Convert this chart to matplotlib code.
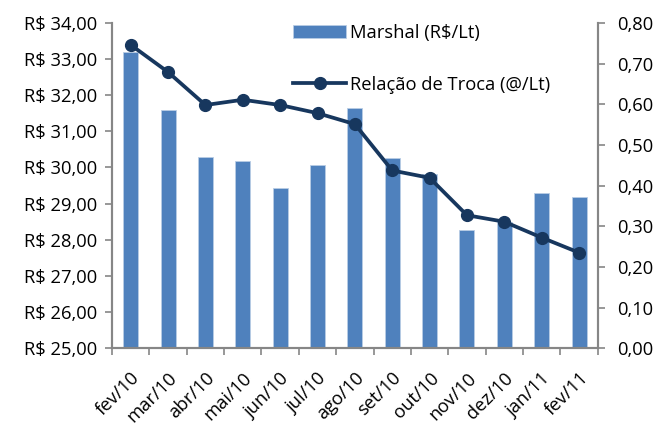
import matplotlib
matplotlib.use("Agg")
import matplotlib.pyplot as plt
from matplotlib.ticker import FuncFormatter, MultipleLocator, FixedLocator
import numpy as np

# dados
meses = ['fev/10', 'mar/10', 'abr/10', 'mai/10', 'jun/10', 'jul/10', 'ago/10',
         'set/10', 'out/10', 'nov/10', 'dez/10', 'jan/11', 'fev/11']
marshal = [33.19, 31.58, 30.28, 30.17, 29.42, 30.07, 31.65,
           30.27, 29.82, 28.26, 28.50, 29.30, 29.17]
troca = [0.746, 0.679, 0.598, 0.611, 0.598, 0.578, 0.551,
         0.437, 0.419, 0.327, 0.311, 0.272, 0.235]

cor_barra = '#4F81BD'
cor_linha = '#17375E'
cor_eixo = '#868686'

plt.rcParams['font.family'] = ['Open Sans', 'DejaVu Sans']
plt.rcParams['font.size'] = 13.2

fig = plt.figure(figsize=(6.59, 4.32), dpi=100)
ax = fig.add_axes([0.170, 0.194, 0.737, 0.753])
ax2 = ax.twinx()

x = np.arange(len(meses))
barras = ax.bar(x, [v - 25 for v in marshal], bottom=25, width=0.4, color=cor_barra,
                edgecolor='#B9CDE5', linewidth=0.6, label='Marshal (R$/Lt)')
linha, = ax2.plot(x, troca, color=cor_linha, lw=2.7, marker='o', ms=8.5,
                  label='Relação de Troca (@/Lt)')

ax.set_xlim(-0.5, len(meses) - 0.5)
ax.set_ylim(25, 34)
ax2.set_ylim(0, 0.8)
ax.yaxis.set_major_locator(MultipleLocator(1))
ax2.yaxis.set_major_locator(MultipleLocator(0.1))
ax.yaxis.set_major_formatter(FuncFormatter(lambda v, p: ('R$ %.2f' % v).replace('.', ',')))
ax2.yaxis.set_major_formatter(FuncFormatter(lambda v, p: ('%.2f' % v).replace('.', ',')))

# ticks entre categorias, rótulos centrados
ax.xaxis.set_major_locator(FixedLocator(np.arange(-0.5, len(meses), 1.0)))
ax.xaxis.set_major_formatter(FuncFormatter(lambda v, p: ''))
ax.set_xticks(x, minor=True)
ax.set_xticklabels(meses, minor=True, rotation=45, ha='right', rotation_mode='anchor')
ax.tick_params(axis='x', which='minor', length=0, pad=15)
ax.tick_params(axis='x', which='major', length=5, color=cor_eixo, width=1.2)

for a in (ax, ax2):
    for s in a.spines.values():
        s.set_color(cor_eixo)
        s.set_linewidth(1.5)
    a.spines['top'].set_visible(False)
ax.tick_params(axis='y', length=5, color=cor_eixo, width=1.2, pad=6)
ax2.tick_params(axis='y', length=5, color=cor_eixo, width=1.2, pad=9)

fig.legend(handles=[barras, linha], loc='upper left', bbox_to_anchor=(0.445, 0.945),
           frameon=False, handlelength=2.9, handletextpad=0.2, labelspacing=1.85,
           borderpad=0, borderaxespad=0)

fig.savefig('out.png', dpi=100)
